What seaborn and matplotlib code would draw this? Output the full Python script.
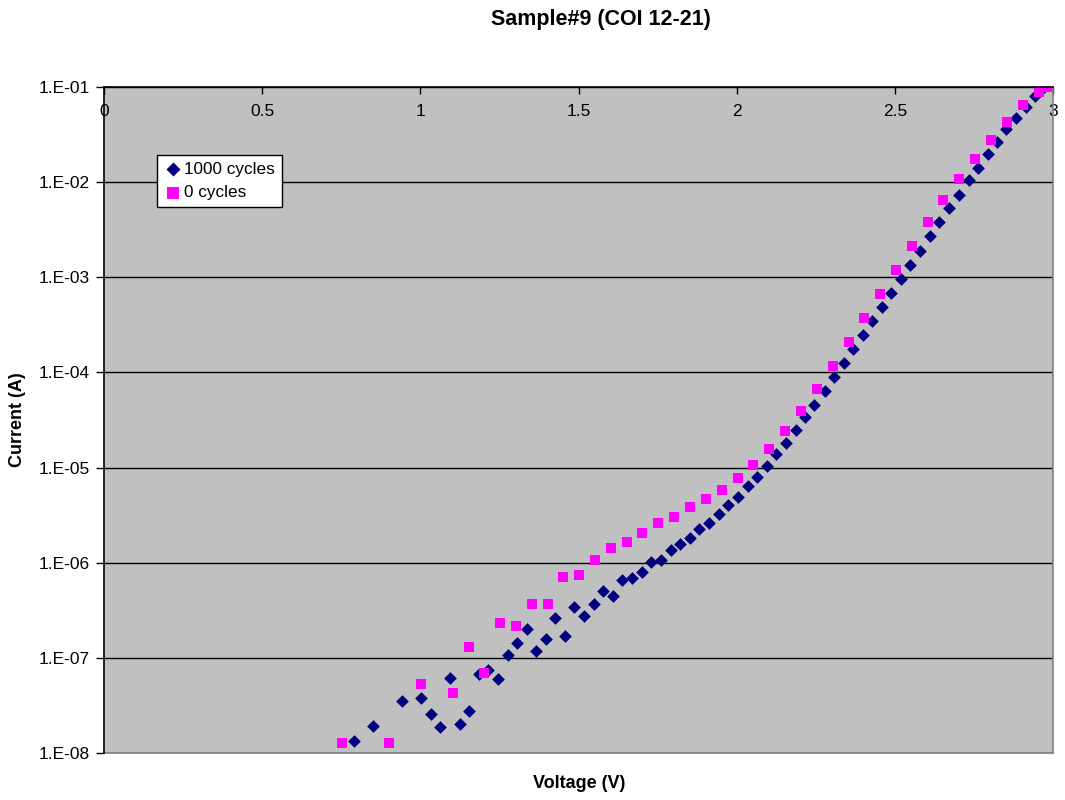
import numpy as np
import pandas as pd
import matplotlib
matplotlib.use("Agg")
import matplotlib.pyplot as plt
import seaborn as sns
from matplotlib.ticker import FixedLocator, FixedFormatter

# ---- data ----
v_1000 = [0.789, 0.850, 0.942, 1.003, 1.033, 1.063, 1.094, 1.124, 1.154, 1.184,
          1.215, 1.245, 1.276, 1.306, 1.336, 1.367, 1.396, 1.427, 1.457, 1.487,
          1.518, 1.548, 1.578, 1.608, 1.639, 1.669, 1.700, 1.730, 1.761, 1.792,
          1.822, 1.853, 1.882, 1.913, 1.943, 1.974, 2.004, 2.035, 2.064, 2.095,
          2.125, 2.155, 2.186, 2.216, 2.246, 2.278, 2.308, 2.338, 2.369, 2.398,
          2.429, 2.459, 2.489, 2.520, 2.549, 2.580, 2.610, 2.640, 2.672, 2.702,
          2.733, 2.762, 2.793, 2.822, 2.853, 2.883, 2.914, 2.943, 2.972]
log_i_1000 = [-7.871, -7.720, -7.457, -7.422, -7.587, -7.730, -7.215, -7.695, -7.556, -7.166,
              -7.128, -7.225, -6.973, -6.844, -6.694, -6.925, -6.799, -6.585, -6.774, -6.469,
              -6.565, -6.434, -6.297, -6.347, -6.182, -6.164, -6.098, -5.989, -5.975, -5.870,
              -5.803, -5.744, -5.642, -5.586, -5.485, -5.397, -5.306, -5.197, -5.096, -4.984,
              -4.857, -4.738, -4.608, -4.472, -4.342, -4.193, -4.048, -3.901, -3.757, -3.607,
              -3.463, -3.316, -3.168, -3.022, -2.871, -2.721, -2.569, -2.422, -2.275, -2.135,
              -1.981, -1.851, -1.704, -1.574, -1.445, -1.322, -1.207, -1.095, -1.003]

v_0 = [0.751, 0.902, 1.003, 1.102, 1.153, 1.201, 1.252, 1.303, 1.352, 1.403,
       1.452, 1.503, 1.553, 1.603, 1.653, 1.702, 1.752, 1.802, 1.853, 1.903,
       1.953, 2.003, 2.053, 2.103, 2.153, 2.203, 2.253, 2.304, 2.354, 2.404,
       2.454, 2.504, 2.553, 2.604, 2.653, 2.704, 2.755, 2.804, 2.854, 2.904,
       2.956, 2.980]
log_i_0 = [-7.895, -7.895, -7.278, -7.373, -6.889, -7.162, -6.631, -6.662, -6.431, -6.431,
           -6.147, -6.129, -5.975, -5.846, -5.782, -5.688, -5.579, -5.523, -5.414, -5.330,
           -5.236, -5.110, -4.973, -4.805, -4.612, -4.402, -4.175, -3.933, -3.683, -3.428,
           -3.176, -2.920, -2.668, -2.422, -2.191, -1.970, -1.760, -1.557, -1.371, -1.193,
           -1.049, -0.997]

series_names = ["1000 cycles", "0 cycles"]
x_ticks = [0, 0.5, 1, 1.5, 2, 2.5, 3]
x_tick_labels = ["0", "0.5", "1", "1.5", "2", "2.5", "3"]
y_ticks = [1e-8, 1e-7, 1e-6, 1e-5, 1e-4, 1e-3, 1e-2, 1e-1]
y_tick_labels = ["1.E-08", "1.E-07", "1.E-06", "1.E-05", "1.E-04", "1.E-03", "1.E-02", "1.E-01"]
title = "Sample#9 (COI 12-21)"
x_label = "Voltage (V)"
y_label = "Current (A)"

df_1000 = pd.DataFrame({"V": v_1000, "I": 10 ** np.array(log_i_1000)})
df_0 = pd.DataFrame({"V": v_0, "I": 10 ** np.array(log_i_0)})

# ---- styling ----
sns.set_theme(style="white")
plt.rcParams["font.family"] = ["Liberation Sans", "DejaVu Sans"]
plt.rcParams["text.color"] = "black"
plt.rcParams["axes.labelcolor"] = "black"
plt.rcParams["xtick.color"] = "black"
plt.rcParams["ytick.color"] = "black"

fig = plt.figure(figsize=(10.65, 8.0), dpi=100)
ax = fig.add_axes([104 / 1065, 1 - 753 / 800, (1053 - 104) / 1065, (753 - 87) / 800])
ax.set_facecolor("#C0C0C0")

ax.set_yscale("log")
ax.set_xlim(0, 3)
ax.set_ylim(1e-8, 1e-1)

for y in y_ticks:
    ax.axhline(y, color="#000000", lw=1.0, zorder=1)

sns.scatterplot(data=df_1000, x="V", y="I", marker="D", s=42, color="#000080",
                linewidth=0, label=series_names[0], ax=ax, zorder=3)
sns.scatterplot(data=df_0, x="V", y="I", marker="s", s=55, color="#FF00FF",
                linewidth=0, label=series_names[1], ax=ax, zorder=4)

# axes ticks
ax.xaxis.set_major_locator(FixedLocator(x_ticks))
ax.xaxis.set_major_formatter(FixedFormatter(x_tick_labels))
ax.xaxis.set_minor_locator(FixedLocator([]))
ax.tick_params(axis="x", top=True, bottom=False, labeltop=True, labelbottom=False,
               direction="in", length=5, width=1, color="black", pad=-23,
               labelsize=12.5, labelcolor="black")
ax.yaxis.set_major_locator(FixedLocator(y_ticks))
ax.yaxis.set_major_formatter(FixedFormatter(y_tick_labels))
ax.yaxis.set_minor_locator(FixedLocator([]))
ax.tick_params(axis="y", left=True, direction="out", length=6, width=1, color="black",
               pad=4, labelsize=12.5, labelcolor="black")

for side in ["left", "top"]:
    ax.spines[side].set_color("black")
    ax.spines[side].set_linewidth(1.2)
    ax.spines[side].set_zorder(5)
for side in ["right", "bottom"]:
    ax.spines[side].set_color("#808080")
    ax.spines[side].set_linewidth(1.2)
    ax.spines[side].set_visible(True)

ax.set_xlabel("")
ax.set_ylabel("")
fig.text(601 / 1065, 1 - 20 / 800, title, ha="center", va="center",
         fontsize=15.5, fontweight="bold", color="black")
fig.text(579 / 1065, 1 - 783 / 800, x_label, ha="center", va="center",
         fontsize=13, fontweight="bold", color="black")
fig.text(18 / 1065, 1 - 420 / 800, y_label, ha="center", va="center",
         rotation=90, fontsize=13, fontweight="bold", color="black")

leg = ax.legend(loc="upper left", bbox_to_anchor=(0.0555, 0.898), borderaxespad=0,
                frameon=True, fancybox=False, fontsize=12.3, handletextpad=0.1,
                handlelength=1.1, borderpad=0.4, labelspacing=0.5, markerscale=1.1)
leg.get_frame().set_edgecolor("black")
leg.get_frame().set_linewidth(1.0)
leg.get_frame().set_facecolor("white")
leg.get_frame().set_alpha(1)
for t in leg.get_texts():
    t.set_color("black")

fig.savefig("out.png", dpi=100, facecolor="white")
